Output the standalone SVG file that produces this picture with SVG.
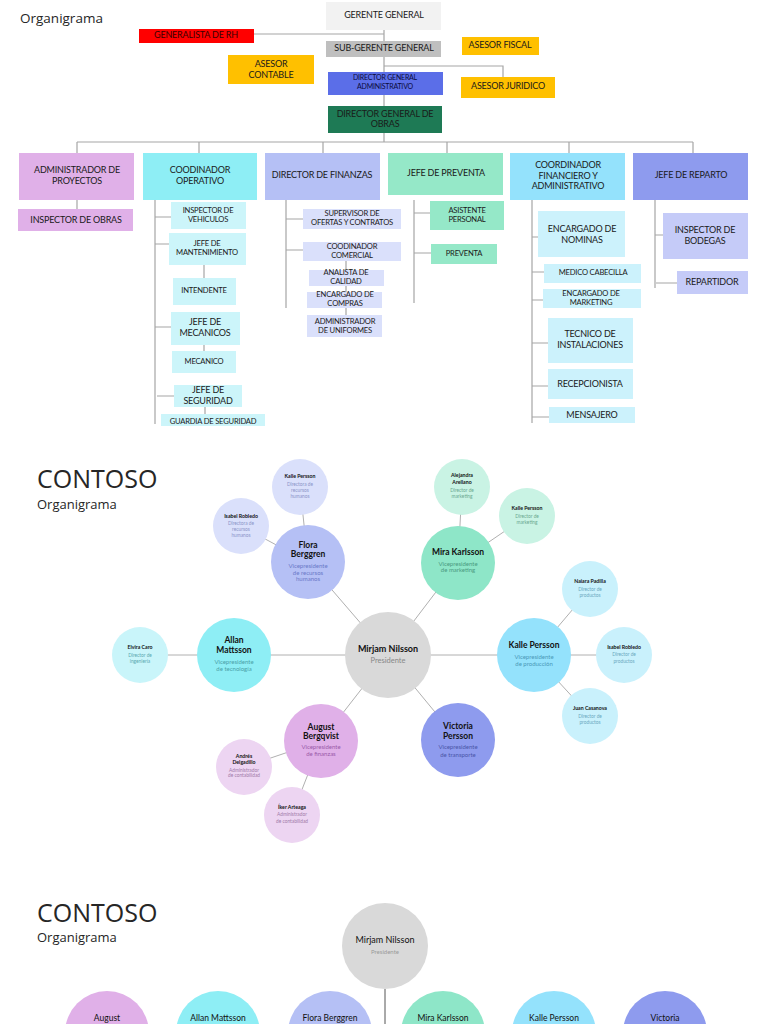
<svg xmlns="http://www.w3.org/2000/svg" width="768" height="1024" viewBox="0 0 768 1024">
<style>
.t{font-family:Lato,'Liberation Sans',sans-serif;font-size:9px;fill:#1a1a1a;text-anchor:middle;dominant-baseline:central;letter-spacing:-0.2px}
.s{font-size:7.6px}
.xs{font-size:7px}
.ln{stroke:#a6a6a6;stroke-width:1.2;fill:none}
.title{font-family:'Open Sans','Liberation Sans',sans-serif;fill:#262626}
.n{font-family:Lato,'Liberation Sans',sans-serif;text-anchor:middle;dominant-baseline:central;fill:#111}
.vp{font-size:8.5px;font-weight:bold}
.vs{font-size:6px}
.sn{font-size:5.2px;font-weight:bold}
.ss{font-size:4.8px;fill:#8a8a8a}
</style>
<rect width="768" height="1024" fill="#fff"/>
<text class="title" x="20" y="23" font-size="13.5">Organigrama</text>

<g id="connectors">
<path class="ln" d="M384 30V142M254 34H384M384 66H503V77M77 142H693M77 142V153M199 142V153M323 142V153M447 142V153M569 142V153M693 142V153"/>
<path class="ln" d="M77 200V209"/>
<path class="ln" d="M155 200V424M155 217H171M155 244H169M204 265V278M155 327H171M204 345V351M157 396H174M205 407V414"/>
<path class="ln" d="M286 200V308M286 219H303M286 250H303M346 261V270M346 286V292M346 308V315"/>
<path class="ln" d="M414 200V303M414 213H430M414 253H431"/>
<path class="ln" d="M532 200V423M532 237H538M532 272H544M532 300H543M532 343H548M532 386H548M532 417H549"/>
<path class="ln" d="M655 200V288M655 235H663M656 283H677"/>
<g stroke="#b0b0b0" stroke-width="1">
<line x1="388" y1="655" x2="140" y2="655"/>
<line x1="388" y1="655" x2="624" y2="655"/>
<line x1="388" y1="655" x2="308" y2="562"/>
<line x1="388" y1="655" x2="458" y2="563"/>
<line x1="388" y1="655" x2="321" y2="741"/>
<line x1="388" y1="655" x2="458" y2="740"/>
<line x1="308" y1="562" x2="300" y2="487"/>
<line x1="308" y1="562" x2="241" y2="526"/>
<line x1="458" y1="563" x2="462" y2="487"/>
<line x1="458" y1="563" x2="527" y2="516"/>
<line x1="534" y1="655" x2="590" y2="589"/>
<line x1="534" y1="655" x2="590" y2="716"/>
<line x1="321" y1="741" x2="244" y2="767"/>
<line x1="321" y1="741" x2="292" y2="815"/>
</g>
<line x1="385" y1="989" x2="385" y2="1024" stroke="#555" stroke-width="1"/>
</g>

<g id="gerente"><rect x="326" y="2" width="115" height="28" fill="#f2f2f2"/><text class="t" x="384" y="14">GERENTE GENERAL</text></g>
<g id="generalista"><rect x="139" y="29" width="115" height="14" fill="#ff0000"/><text class="t" x="196" y="34" style="fill:#3a0000">GENERALISTA DE RH</text></g>
<g id="subgerente"><rect x="326" y="41" width="115" height="16" fill="#bfbfbf"/><text class="t" x="384" y="47">SUB-GERENTE GENERAL</text></g>
<g id="fiscal"><rect x="462" y="37" width="77" height="18" fill="#ffc000"/><text class="t" x="500" y="44">ASESOR FISCAL</text></g>
<g id="contable"><rect x="228" y="55" width="86" height="29" fill="#ffc000"/><text class="t" x="271" y="63">ASESOR</text><text class="t" x="271" y="74">CONTABLE</text></g>
<g id="juridico"><rect x="461" y="77" width="94" height="21" fill="#ffc000"/><text class="t" x="508" y="85">ASESOR JURIDICO</text></g>
<g id="diradmin"><rect x="328" y="72" width="115" height="23" fill="#5b6ee8"/><text class="t xs" x="385" y="77" style="fill:#0a0a3a">DIRECTOR GENERAL</text><text class="t xs" x="385" y="86" style="fill:#0a0a3a">ADMINISTRATIVO</text></g>
<g id="dirobras"><rect x="328" y="106" width="114" height="27" fill="#1e7a55"/><text class="t" x="385" y="113">DIRECTOR GENERAL DE</text><text class="t" x="385" y="123">OBRAS</text></g>

<g id="admproy"><rect x="19" y="153" width="115" height="47" fill="#e0b0e8"/><text class="t" x="77" y="169">ADMINISTRADOR DE</text><text class="t" x="77" y="180">PROYECTOS</text></g>
<g id="coodop"><rect x="143" y="153" width="114" height="47" fill="#8eeef5"/><text class="t" x="200" y="169">COODINADOR</text><text class="t" x="200" y="180">OPERATIVO</text></g>
<g id="dirfin"><rect x="265" y="153" width="115" height="47" fill="#b5c0f5"/><text class="t" x="322" y="174">DIRECTOR DE FINANZAS</text></g>
<g id="jefprev"><rect x="388" y="153" width="115" height="42" fill="#95e8c8"/><text class="t" x="446" y="172">JEFE DE PREVENTA</text></g>
<g id="coordfin"><rect x="510" y="153" width="115" height="47" fill="#94e2fc"/><text class="t" x="568" y="164">COORDINADOR</text><text class="t" x="568" y="175">FINANCIERO Y</text><text class="t" x="568" y="185">ADMINISTRATIVO</text></g>
<g id="jefrep"><rect x="633" y="153" width="115" height="47" fill="#8e9bee"/><text class="t" x="691" y="174">JEFE DE REPARTO</text></g>

<g id="inspobras"><rect x="18" y="209" width="115" height="22" fill="#e0b0e8"/><text class="t" x="76" y="219">INSPECTOR DE OBRAS</text></g>

<g id="inspveh"><rect x="171" y="202" width="75" height="27" fill="#ccf5fa"/><text class="t s" x="208" y="210">INSPECTOR DE</text><text class="t s" x="208" y="219">VEHICULOS</text></g>
<g id="jefmant"><rect x="169" y="233" width="77" height="32" fill="#ccf5fa"/><text class="t s" x="207" y="243">JEFE DE</text><text class="t s" x="207" y="252">MANTENIMIENTO</text></g>
<g id="intend"><rect x="173" y="278" width="63" height="27" fill="#ccf5fa"/><text class="t s" x="204" y="290">INTENDENTE</text></g>
<g id="jefmec"><rect x="171" y="312" width="69" height="33" fill="#ccf5fa"/><text class="t" x="205" y="321">JEFE DE</text><text class="t" x="205" y="332">MECANICOS</text></g>
<g id="mecanico"><rect x="172" y="351" width="64" height="22" fill="#ccf5fa"/><text class="t s" x="204" y="361">MECANICO</text></g>
<g id="jefseg"><rect x="174" y="385" width="68" height="22" fill="#ccf5fa"/><text class="t" x="208" y="389">JEFE DE</text><text class="t" x="208" y="400">SEGURIDAD</text></g>
<g id="guardia"><rect x="161" y="414" width="104" height="12" fill="#ccf5fa"/><text class="t s" x="213" y="421">GUARDIA DE SEGURIDAD</text></g>

<g id="superv"><rect x="303" y="209" width="98" height="20" fill="#dae0fb"/><text class="t s" x="352" y="213">SUPERVISOR DE</text><text class="t s" x="352" y="222">OFERTAS Y CONTRATOS</text></g>
<g id="coodcom"><rect x="303" y="242" width="98" height="19" fill="#dae0fb"/><text class="t s" x="352" y="246">COODINADOR</text><text class="t s" x="352" y="255">COMERCIAL</text></g>
<g id="analista"><rect x="309" y="270" width="75" height="16" fill="#dae0fb"/><text class="t s" x="346" y="272">ANALISTA DE</text><text class="t s" x="346" y="281">CALIDAD</text></g>
<g id="compras"><rect x="307" y="292" width="75" height="16" fill="#dae0fb"/><text class="t s" x="345" y="294">ENCARGADO DE</text><text class="t s" x="345" y="303">COMPRAS</text></g>
<g id="uniformes"><rect x="307" y="315" width="75" height="22" fill="#dae0fb"/><text class="t s" x="345" y="321">ADMINISTRADOR</text><text class="t s" x="345" y="330">DE UNIFORMES</text></g>

<g id="asist"><rect x="430" y="201" width="74" height="29" fill="#95e8c8"/><text class="t s" x="467" y="210">ASISTENTE</text><text class="t s" x="467" y="219">PERSONAL</text></g>
<g id="preventa"><rect x="431" y="244" width="66" height="20" fill="#95e8c8"/><text class="t s" x="464" y="253">PREVENTA</text></g>

<g id="nominas"><rect x="538" y="211" width="87" height="46" fill="#ccf2fc"/><text class="t" x="582" y="228">ENCARGADO DE</text><text class="t" x="582" y="239">NOMINAS</text></g>
<g id="medico"><rect x="544" y="264" width="97" height="19" fill="#ccf2fc"/><text class="t s" x="593" y="272">MEDICO CABECILLA</text></g>
<g id="mkt"><rect x="543" y="289" width="98" height="19" fill="#ccf2fc"/><text class="t s" x="591" y="293">ENCARGADO DE</text><text class="t s" x="591" y="302">MARKETING</text></g>
<g id="tecnico"><rect x="548" y="318" width="85" height="45" fill="#ccf2fc"/><text class="t" x="590" y="333">TECNICO DE</text><text class="t" x="590" y="344">INSTALACIONES</text></g>
<g id="recep"><rect x="548" y="369" width="85" height="30" fill="#ccf2fc"/><text class="t" x="590" y="383">RECEPCIONISTA</text></g>
<g id="mensajero"><rect x="549" y="407" width="86" height="16" fill="#ccf2fc"/><text class="t" x="592" y="414">MENSAJERO</text></g>

<g id="bodegas"><rect x="663" y="213" width="85" height="46" fill="#c5cbf8"/><text class="t" x="705" y="229">INSPECTOR DE</text><text class="t" x="705" y="240">BODEGAS</text></g>
<g id="repartidor"><rect x="677" y="271" width="71" height="23" fill="#c5cbf8"/><text class="t" x="712" y="281">REPARTIDOR</text></g>

<text class="title" x="37" y="488" font-size="25">CONTOSO</text>
<text class="title" x="37" y="509" font-size="13">Organigrama</text>

<g id="mirjam"><circle cx="388" cy="655" r="43" fill="#d9d9d9"/><text class="n" x="388" y="648" font-size="9" font-weight="bold">Mirjam Nilsson</text><text class="n" x="388" y="660" font-size="7.5" style="fill:#888">Presidente</text></g>
<g id="allan"><circle cx="234" cy="655" r="37" fill="#8eeef5"/><text class="n vp" x="234" y="640">Allan</text><text class="n vp" x="234" y="650">Mattsson</text><text class="n vs" x="234" y="661" style="fill:#4a9fa8">Vicepresidente</text><text class="n vs" x="234" y="668" style="fill:#4a9fa8">de tecnología</text></g>
<g id="elvira"><circle cx="140" cy="655" r="28" fill="#c9f5fa"/><text class="n sn" x="140" y="647">Elvira Caro</text><text class="n ss" x="140" y="655" style="fill:#5aa8b0">Director de</text><text class="n ss" x="140" y="661" style="fill:#5aa8b0">ingeniería</text></g>
<g id="kalle"><circle cx="534" cy="655" r="37" fill="#94e2fc"/><text class="n vp" x="534" y="645">Kalle Persson</text><text class="n vs" x="534" y="656" style="fill:#4a98b8">Vicepresidente</text><text class="n vs" x="534" y="663" style="fill:#4a98b8">de producción</text></g>
<g id="isabelp"><circle cx="624" cy="655" r="28" fill="#c9f1fc"/><text class="n sn" x="624" y="647">Isabel Robledo</text><text class="n ss" x="624" y="654" style="fill:#6aa8c0">Director de</text><text class="n ss" x="624" y="661" style="fill:#6aa8c0">productos</text></g>
<g id="naiara"><circle cx="590" cy="589" r="28" fill="#c9f1fc"/><text class="n sn" x="590" y="581">Naiara Padilla</text><text class="n ss" x="590" y="589" style="fill:#6aa8c0">Director de</text><text class="n ss" x="590" y="595" style="fill:#6aa8c0">productos</text></g>
<g id="juan"><circle cx="590" cy="716" r="28" fill="#c9f1fc"/><text class="n sn" x="590" y="708">Juan Casanova</text><text class="n ss" x="590" y="716" style="fill:#6aa8c0">Director de</text><text class="n ss" x="590" y="722" style="fill:#6aa8c0">productos</text></g>
<g id="victoria"><circle cx="458" cy="740" r="37" fill="#8e9bee"/><text class="n vp" x="458" y="726">Victoria</text><text class="n vp" x="458" y="736">Persson</text><text class="n vs" x="458" y="746" style="fill:#4a55a8">Vicepresidente</text><text class="n vs" x="458" y="754" style="fill:#4a55a8">de transporte</text></g>
<g id="august"><circle cx="321" cy="741" r="37" fill="#e0b0e8"/><text class="n vp" x="321" y="727">August</text><text class="n vp" x="321" y="736">Bergqvist</text><text class="n vs" x="321" y="746" style="fill:#9a5aa8">Vicepresidente</text><text class="n vs" x="321" y="753" style="fill:#9a5aa8">de finanzas</text></g>
<g id="andres"><circle cx="244" cy="767" r="28" fill="#edd5f2"/><text class="n sn" x="244" y="756">Andrés</text><text class="n sn" x="244" y="762">Delgadillo</text><text class="n ss" x="244" y="770" style="fill:#a07aa8">Administrador</text><text class="n ss" x="244" y="775" style="fill:#a07aa8">de contabilidad</text></g>
<g id="iker"><circle cx="292" cy="815" r="28" fill="#edd5f2"/><text class="n sn" x="292" y="807">Íker Arteaga</text><text class="n ss" x="292" y="814" style="fill:#a07aa8">Administrador</text><text class="n ss" x="292" y="821" style="fill:#a07aa8">de contabilidad</text></g>
<g id="flora"><circle cx="308" cy="562" r="37" fill="#b5c0f5"/><text class="n vp" x="308" y="545">Flora</text><text class="n vp" x="308" y="554">Berggren</text><text class="n vs" x="308" y="565" style="fill:#6a78c8">Vicepresidente</text><text class="n vs" x="308" y="572" style="fill:#6a78c8">de recursos</text><text class="n vs" x="308" y="578" style="fill:#6a78c8">humanos</text></g>
<g id="kallehr"><circle cx="300" cy="487" r="28" fill="#dae0fb"/><text class="n sn" x="300" y="476">Kalle Persson</text><text class="n ss" x="300" y="484" style="fill:#8a94c8">Directora de</text><text class="n ss" x="300" y="490" style="fill:#8a94c8">recursos</text><text class="n ss" x="300" y="496" style="fill:#8a94c8">humanos</text></g>
<g id="isabelhr"><circle cx="241" cy="526" r="28" fill="#dae0fb"/><text class="n sn" x="241" y="516">Isabel Robledo</text><text class="n ss" x="241" y="523" style="fill:#8a94c8">Directora de</text><text class="n ss" x="241" y="529" style="fill:#8a94c8">recursos</text><text class="n ss" x="241" y="535" style="fill:#8a94c8">humanos</text></g>
<g id="mira"><circle cx="458" cy="563" r="37" fill="#8ee6c8"/><text class="n vp" x="458" y="552">Mira Karlsson</text><text class="n vs" x="458" y="563" style="fill:#4a9a80">Vicepresidente</text><text class="n vs" x="458" y="569" style="fill:#4a9a80">de marketing</text></g>
<g id="alejandra"><circle cx="462" cy="487" r="28" fill="#c9f3e4"/><text class="n sn" x="462" y="475">Alejandra</text><text class="n sn" x="462" y="482">Arellano</text><text class="n ss" x="462" y="490" style="fill:#6aa890">Director de</text><text class="n ss" x="462" y="496" style="fill:#6aa890">marketing</text></g>
<g id="kallemkt"><circle cx="527" cy="516" r="28" fill="#c9f3e4"/><text class="n sn" x="527" y="508">Kalle Persson</text><text class="n ss" x="527" y="516" style="fill:#6aa890">Director de</text><text class="n ss" x="527" y="522" style="fill:#6aa890">marketing</text></g>

<text class="title" x="37" y="922" font-size="25">CONTOSO</text>
<text class="title" x="37" y="942" font-size="13">Organigrama</text>

<g id="b-mirjam"><circle cx="385" cy="946" r="43" fill="#d9d9d9"/><text class="n" x="385" y="939" font-size="9">Mirjam Nilsson</text><text class="n" x="385" y="951" font-size="6" style="fill:#999">Presidente</text></g>
<g id="b-august"><circle cx="107" cy="1033" r="42" fill="#e0b0e8"/><text class="n" x="107" y="1018" font-size="8.5">August</text></g>
<g id="b-allan"><circle cx="218" cy="1033" r="42" fill="#8eeef5"/><text class="n" x="218" y="1018" font-size="8.5">Allan Mattsson</text></g>
<g id="b-flora"><circle cx="330" cy="1033" r="42" fill="#b5c0f5"/><text class="n" x="330" y="1018" font-size="8.5">Flora Berggren</text></g>
<g id="b-mira"><circle cx="443" cy="1033" r="42" fill="#8ee6c8"/><text class="n" x="443" y="1018" font-size="8.5">Mira Karlsson</text></g>
<g id="b-kalle"><circle cx="554" cy="1033" r="42" fill="#94e2fc"/><text class="n" x="554" y="1018" font-size="8.5">Kalle Persson</text></g>
<g id="b-victoria"><circle cx="665" cy="1033" r="42" fill="#8e9bee"/><text class="n" x="665" y="1018" font-size="8.5">Victoria</text></g>
</svg>
